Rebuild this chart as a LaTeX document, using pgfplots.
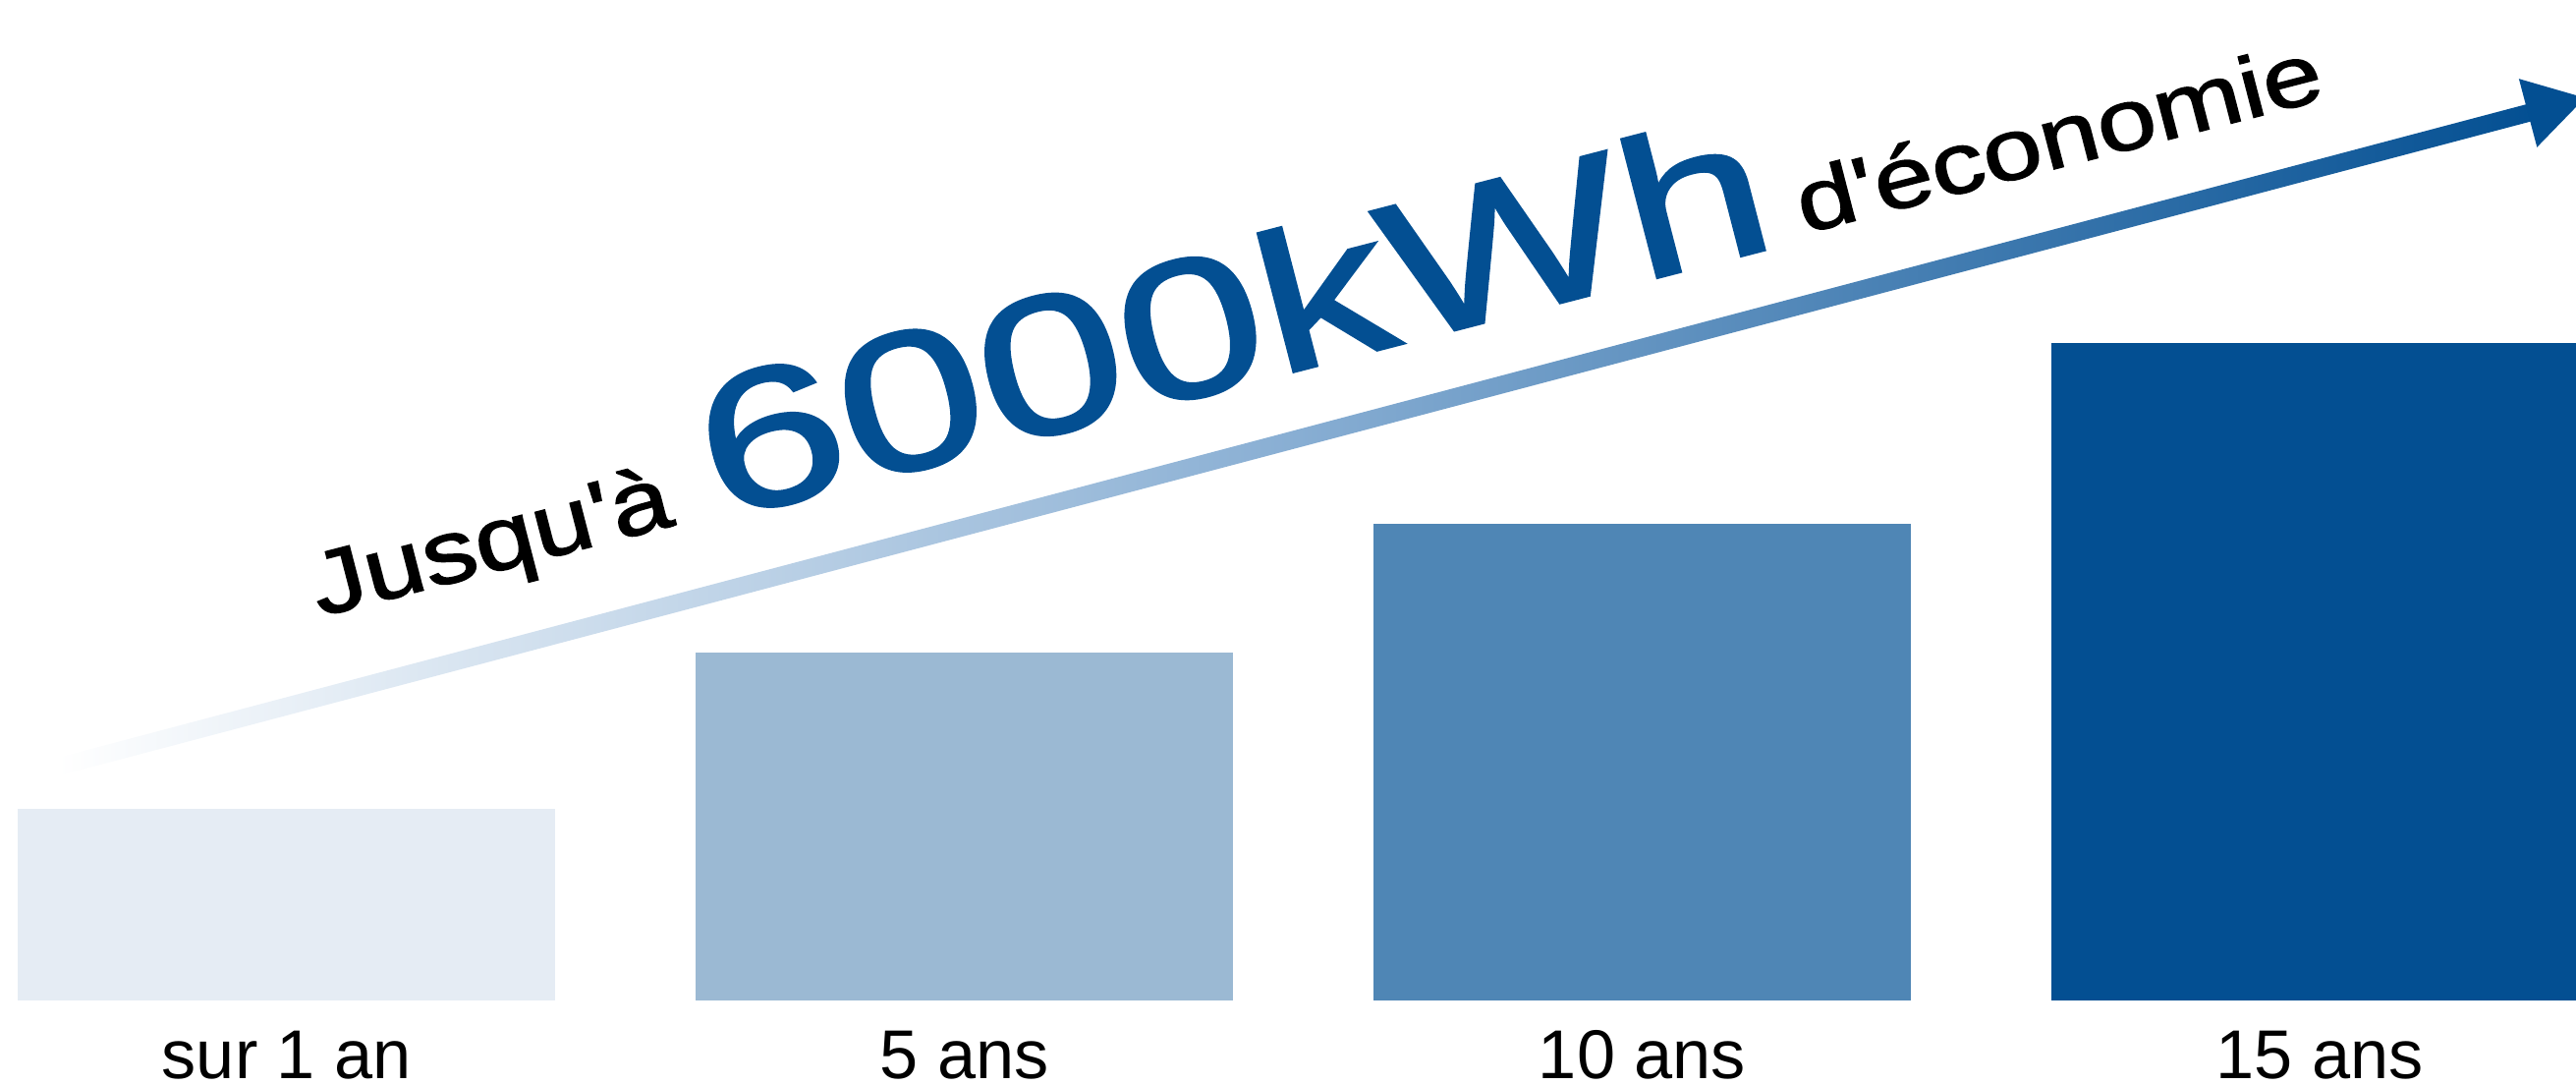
\documentclass[border=0pt]{standalone}
\usepackage{fontspec}
\setmainfont{Liberation Sans}[Ligatures=TeXOff]
\newfontfamily\titlefont{Liberation Sans}[Ligatures=TeXOff, FakeBold=1.5]
\usepackage{pgfplots}
\pgfplotsset{compat=1.18}
\definecolor{cone}{HTML}{E5ECF4}
\definecolor{ctwo}{HTML}{9BB9D3}
\definecolor{cthree}{HTML}{4F86B5}
\definecolor{cfour}{HTML}{034F92}
\definecolor{cmid}{HTML}{88AED3}
\begin{document}
\begin{tikzpicture}
\begin{axis}[
  scale only axis, width=262.2mm, height=101.84mm,
  xmin=-0.4230, xmax=3.3780, ymin=0, ymax=9135,
  clip=false,
  ybar, bar width=0.7927,
  axis line style={draw=none},
  ytick=\empty,
  xtick={0,1,2,3},
  xticklabels={sur 1 an, 5 ans, 10 ans, 15 ans},
  major tick length=0pt,
  xticklabel style={anchor=base, yshift=-7.9mm, inner sep=0pt, font=\fontsize{20}{24}\selectfont, text=black},
]
\addplot[fill=cone, draw=none, bar shift=0pt] coordinates {(0,1755)};
\addplot[fill=ctwo, draw=none, bar shift=0pt] coordinates {(1,3180)};
\addplot[fill=cthree, draw=none, bar shift=0pt] coordinates {(2,4350)};
\addplot[fill=cfour, draw=none, bar shift=0pt] coordinates {(3,6000)};
\coordinate (BL) at (rel axis cs:0,0);
\coordinate (TR) at (rel axis cs:1,1);
\shade[left color=white, right color=cfour, middle color=cmid] (axis cs:-0.3330,2060) -- (axis cs:3.3214,8043) -- (axis cs:3.3152,8200) -- (axis cs:-0.3390,2217) -- cycle;
\fill[cfour] (axis cs:3.3911,8241.6) -- (axis cs:3.3204,7791.3) -- (axis cs:3.2937,8415.7) -- cycle;
\node[anchor=base west, inner sep=0pt, rotate=14.5, xscale=1.2, font=\titlefont\fontsize{26}{30}\selectfont] at (axis cs:0.0481,3502) {Jusqu'à};
\node[anchor=base west, inner sep=0pt, rotate=14.5, xscale=1.32, text=cfour, font=\titlefont\fontsize{57}{60}\selectfont] at (axis cs:0.635,4381) {6000kWh};
\node[anchor=base west, inner sep=0pt, rotate=14.5, xscale=1.23, font=\titlefont\fontsize{25}{30}\selectfont] at (axis cs:2.2386,7000) {d'économie};
\end{axis}
\pgfresetboundingbox
\path[use as bounding box] ([yshift=-8.46mm]BL) rectangle (TR);
\end{tikzpicture}
\end{document}
